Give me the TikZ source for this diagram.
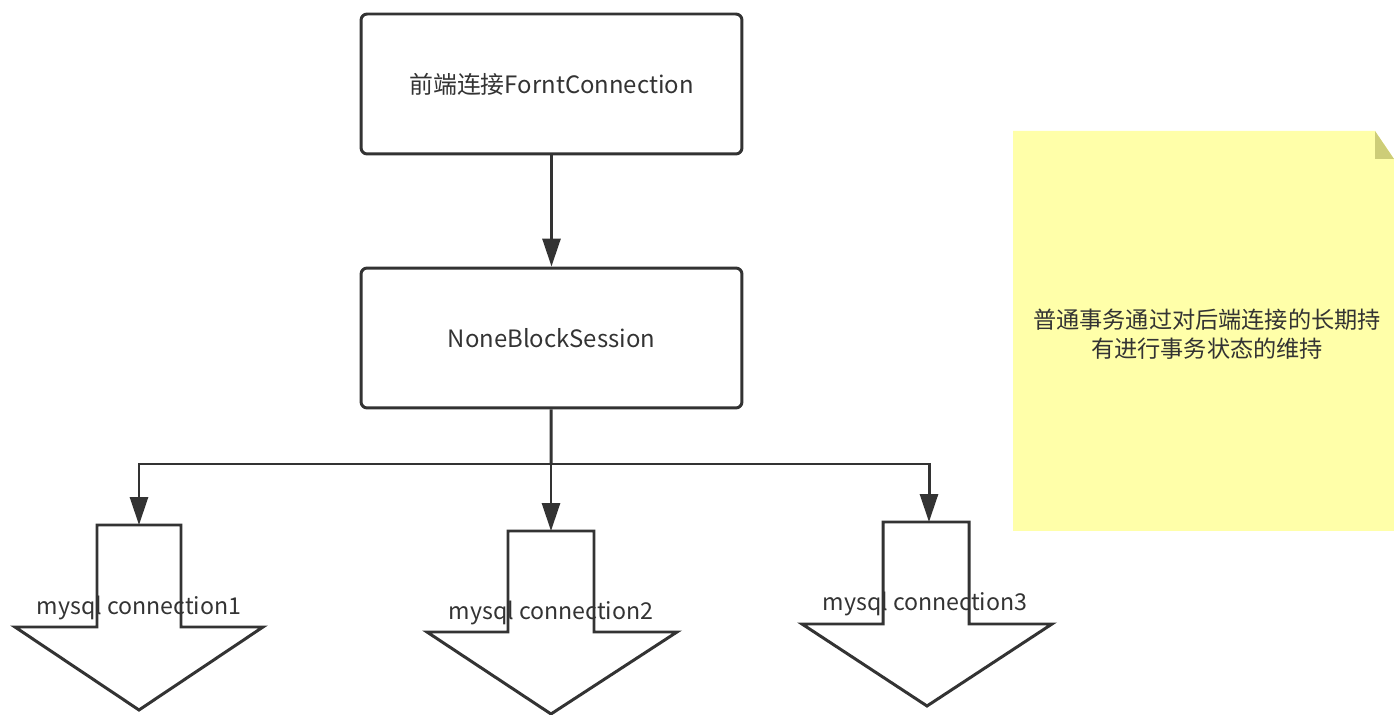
\documentclass[tikz,border=0pt]{standalone}
\usepackage{fontspec}
\setmainfont{Noto Sans CJK SC}
\usepackage{tikz}
\usetikzlibrary{arrows.meta,positioning}

\definecolor{ink}{HTML}{333333}
\definecolor{notefill}{HTML}{FFFFA9}
\definecolor{notefold}{HTML}{CDCD78}

\tikzset{
  procbox/.style={draw=ink, line width=1.7pt, rounded corners=3.5pt, minimum width=7.62cm, minimum height=2.8cm, text=ink, font=\fontsize{13.6}{16}\selectfont},
  link/.style={draw=ink, line width=1.7pt, -{Triangle[length=0.56cm,width=0.36cm]}},
  blockarrow/.style={draw=ink, line width=1.7pt, fill=white, line join=miter},
  connlabel/.style={text=ink, font=\fontsize{13.2}{15}\selectfont, inner sep=0pt}
}

\begin{document}
\begin{tikzpicture}[x=0.02cm, y=-0.02cm]
  \useasboundingbox (0,0) rectangle (1394,715);

  % boxes
  \node[procbox] (front) at (551.5,84) {前端连接ForntConnection};
  \node[procbox] (session) at (551.5,338) {NoneBlockSession};

  % note
  \fill[notefill] (1013,131) -- (1375,131) -- (1394,159) -- (1394,531) -- (1013,531) -- cycle;
  \fill[notefold] (1375,131) -- (1394,159) -- (1375,159) -- cycle;
  \node[text=ink, align=center, font=\fontsize{13.2}{16.4}\selectfont] (note) at (1207,334)
    {普通事务通过对后端连接的长期持\\有进行事务状态的维持};

  % block arrows
  \draw[blockarrow] (97,627) -- (97,525) -- (181,525) -- (181,627) -- (263,627) -- (139,710) -- (15,627) -- cycle;
  \draw[blockarrow] (508,632) -- (508,531) -- (594,531) -- (594,632) -- (677,632) -- (551,714) -- (427,632) -- cycle;
  \draw[blockarrow] (883,624) -- (883,522) -- (969,522) -- (969,624) -- (1052,624) -- (927,706) -- (802,624) -- cycle;
  \coordinate (top1) at (139,525);
  \coordinate (top2) at (551,531);
  \coordinate (top3) at (929,522);
  \node[connlabel] (conn1) at (139,608) {mysql connection1};
  \node[connlabel] (conn2) at (551,613) {mysql connection2};
  \node[connlabel] (conn3) at (925,604) {mysql connection3};

  % connectors
  \draw[link] (front) -- (session);
  \coordinate (fork) at (551,464);
  \draw[draw=ink, line width=1.7pt] (session) -- (fork);
  \draw[link] (fork) -| (top1);
  \draw[link] (fork) -- (top2);
  \draw[link] (fork) -| (top3);
\end{tikzpicture}
\end{document}
